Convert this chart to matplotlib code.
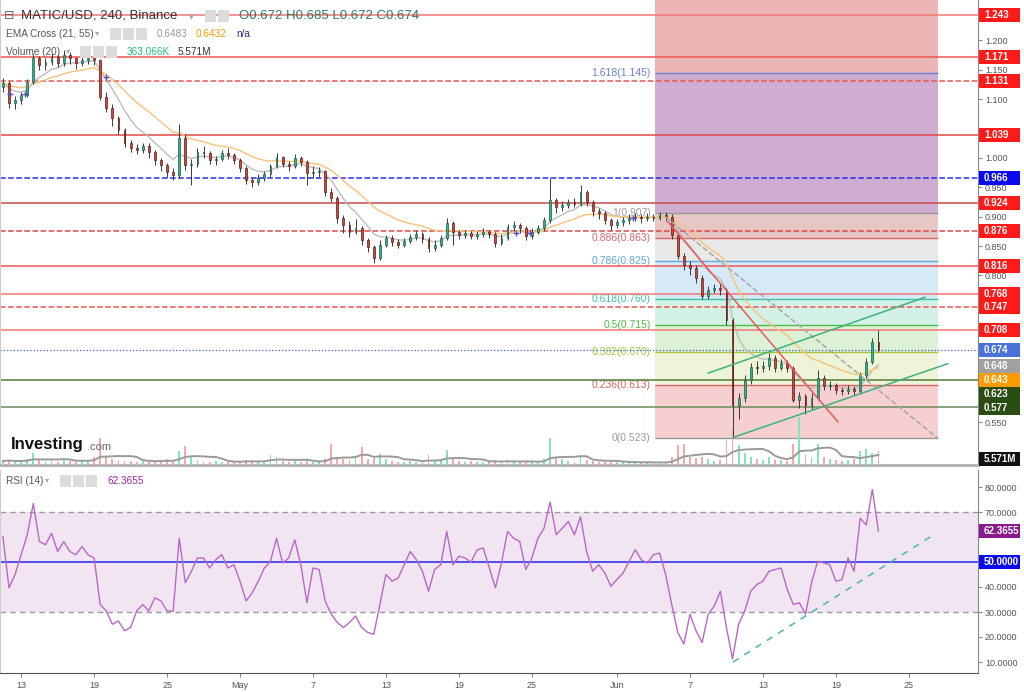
import numpy as np
import pandas as pd
import matplotlib
matplotlib.use("Agg")
import matplotlib.pyplot as plt
import matplotlib.transforms as mtransforms
from matplotlib.patches import Rectangle

plt.rcParams['font.family'] = ['Liberation Sans', 'DejaVu Sans']

# ---- data: MATIC/USD, resampled to 12h candles ----
times = pd.date_range("2023-04-11 12:00", periods=145, freq="12h")
first_open = 1.120
closes = [1.127, 1.093, 1.098, 1.107, 1.129, 1.170, 1.158, 1.163, 1.172, 1.161,
          1.175, 1.170, 1.161, 1.166, 1.170, 1.166, 1.104, 1.085, 1.068, 1.047,
          1.025, 1.017, 1.013, 1.020, 1.010, 0.996, 0.988, 0.976, 0.971, 1.034,
          0.988, 0.990, 1.010, 1.008, 0.996, 0.998, 1.008, 1.005, 0.996, 0.983,
          0.962, 0.959, 0.966, 0.973, 0.986, 1.001, 0.990, 0.986, 0.999, 0.993,
          0.974, 0.976, 0.978, 0.942, 0.932, 0.898, 0.886, 0.874, 0.881, 0.860,
          0.848, 0.830, 0.852, 0.864, 0.857, 0.852, 0.859, 0.865, 0.871, 0.862,
          0.847, 0.852, 0.864, 0.889, 0.874, 0.869, 0.872, 0.867, 0.871, 0.874,
          0.871, 0.856, 0.864, 0.882, 0.886, 0.881, 0.867, 0.874, 0.881, 0.894,
          0.928, 0.916, 0.920, 0.925, 0.922, 0.942, 0.925, 0.910, 0.906, 0.894,
          0.886, 0.891, 0.894, 0.898, 0.899, 0.898, 0.899, 0.898, 0.903, 0.899,
          0.869, 0.833, 0.818, 0.812, 0.796, 0.765, 0.775, 0.779, 0.775, 0.724,
          0.580, 0.591, 0.622, 0.644, 0.643, 0.646, 0.660, 0.643, 0.651, 0.643,
          0.588, 0.595, 0.580, 0.591, 0.626, 0.612, 0.614, 0.605, 0.603, 0.607,
          0.604, 0.631, 0.653, 0.687, 0.674]
highs = [1.135, 1.130, 1.105, 1.112, 1.134, 1.176, 1.174, 1.170, 1.178, 1.176,
         1.183, 1.180, 1.172, 1.175, 1.178, 1.174, 1.168, 1.112, 1.092, 1.072,
         1.050, 1.030, 1.024, 1.026, 1.025, 1.014, 1.000, 0.992, 0.982, 1.058,
         1.040, 0.998, 1.016, 1.020, 1.012, 1.004, 1.014, 1.016, 1.008, 0.999,
         0.986, 0.968, 0.972, 0.978, 0.990, 1.008, 1.004, 0.995, 1.006, 1.004,
         0.996, 0.986, 0.984, 0.980, 0.948, 0.935, 0.903, 0.892, 0.896, 0.884,
         0.864, 0.852, 0.860, 0.868, 0.868, 0.862, 0.864, 0.870, 0.878, 0.874,
         0.866, 0.860, 0.868, 0.898, 0.892, 0.878, 0.878, 0.876, 0.876, 0.880,
         0.878, 0.874, 0.870, 0.888, 0.892, 0.890, 0.884, 0.880, 0.886, 0.900,
         0.966, 0.932, 0.926, 0.930, 0.932, 0.954, 0.946, 0.928, 0.914, 0.910,
         0.898, 0.896, 0.900, 0.904, 0.906, 0.904, 0.906, 0.904, 0.908, 0.908,
         0.904, 0.872, 0.838, 0.824, 0.818, 0.800, 0.782, 0.786, 0.788, 0.778,
         0.728, 0.600, 0.630, 0.652, 0.655, 0.654, 0.668, 0.664, 0.658, 0.656,
         0.646, 0.602, 0.598, 0.600, 0.640, 0.630, 0.620, 0.618, 0.610, 0.614,
         0.612, 0.636, 0.660, 0.694, 0.708]
lows = [1.112, 1.085, 1.083, 1.092, 1.103, 1.125, 1.150, 1.150, 1.158, 1.155,
        1.157, 1.160, 1.152, 1.156, 1.160, 1.158, 1.098, 1.078, 1.055, 1.040,
        1.018, 1.010, 1.006, 1.008, 1.000, 0.988, 0.978, 0.968, 0.962, 0.966,
        0.980, 0.954, 0.985, 1.000, 0.990, 0.988, 0.994, 0.998, 0.990, 0.976,
        0.956, 0.950, 0.954, 0.960, 0.968, 0.982, 0.984, 0.978, 0.982, 0.986,
        0.954, 0.966, 0.968, 0.936, 0.925, 0.890, 0.872, 0.866, 0.870, 0.852,
        0.840, 0.822, 0.826, 0.848, 0.850, 0.846, 0.848, 0.855, 0.860, 0.856,
        0.840, 0.842, 0.848, 0.860, 0.852, 0.862, 0.864, 0.862, 0.862, 0.866,
        0.864, 0.848, 0.852, 0.860, 0.876, 0.872, 0.860, 0.862, 0.870, 0.876,
        0.890, 0.906, 0.910, 0.914, 0.916, 0.918, 0.918, 0.902, 0.896, 0.888,
        0.878, 0.880, 0.884, 0.888, 0.892, 0.890, 0.892, 0.892, 0.894, 0.892,
        0.862, 0.828, 0.810, 0.800, 0.788, 0.760, 0.760, 0.770, 0.766, 0.716,
        0.523, 0.556, 0.585, 0.616, 0.632, 0.636, 0.640, 0.636, 0.640, 0.636,
        0.584, 0.574, 0.565, 0.572, 0.588, 0.606, 0.606, 0.598, 0.596, 0.598,
        0.596, 0.600, 0.626, 0.650, 0.670]
volumes = [1.6, 2.0, 1.2, 1.6, 2.4, 4.8, 2.0, 1.6, 2.0, 1.2,
           2.4, 1.6, 1.2, 2.0, 1.6, 3.2, 10.8, 3.2, 2.4, 2.0,
           1.6, 1.6, 1.2, 1.6, 1.2, 1.6, 2.0, 2.4, 2.0, 5.6,
           7.6, 3.2, 2.0, 1.2, 1.2, 1.6, 1.2, 1.2, 1.2, 1.6,
           2.0, 1.6, 1.2, 1.6, 4.0, 3.2, 1.6, 1.2, 1.6, 1.2,
           2.0, 1.2, 1.2, 2.4, 8.4, 3.2, 2.4, 2.0, 2.8, 7.2,
           2.4, 2.8, 4.4, 2.4, 1.6, 1.2, 1.2, 1.6, 1.2, 1.6,
           4.0, 1.6, 2.4, 6.0, 2.4, 1.6, 1.2, 1.6, 1.2, 1.2,
           1.2, 2.0, 1.2, 2.0, 1.2, 1.2, 1.2, 1.2, 1.2, 2.4,
           10.8, 3.2, 2.4, 1.6, 1.2, 3.2, 2.0, 1.6, 1.2, 1.2,
           1.2, 1.2, 1.2, 1.2, 0.8, 0.8, 1.2, 0.8, 1.2, 1.2,
           3.2, 8.0, 8.4, 3.2, 2.8, 3.2, 2.4, 1.6, 2.0, 10.0,
           14.4, 8.0, 4.8, 3.2, 2.4, 2.0, 3.2, 2.0, 2.0, 1.6,
           8.4, 19.2, 4.0, 3.2, 8.4, 3.2, 2.4, 2.0, 1.6, 2.0,
           2.4, 5.6, 6.4, 4.8, 5.571]
rsi = [60.2, 39.7, 45.0, 52.9, 60.9, 73.4, 58.2, 56.9, 61.5, 54.2,
       58.2, 54.2, 52.9, 56.2, 52.9, 51.6, 33.0, 30.4, 25.1, 26.4,
       22.5, 23.8, 30.4, 33.0, 30.4, 35.7, 34.4, 30.4, 30.4, 59.5,
       41.7, 46.3, 51.6, 51.6, 47.6, 50.9, 52.9, 47.6, 48.9, 42.3,
       34.4, 37.7, 42.3, 47.6, 50.3, 59.5, 49.6, 51.6, 58.9, 48.9,
       33.7, 47.6, 47.0, 34.4, 29.1, 25.8, 23.8, 25.8, 28.4, 23.8,
       21.8, 21.1, 33.0, 45.0, 42.3, 43.6, 48.9, 54.2, 50.9, 46.3,
       38.3, 47.0, 48.9, 62.2, 48.9, 52.3, 51.6, 50.0, 54.9, 55.6,
       47.6, 39.7, 49.6, 62.2, 59.5, 58.2, 47.0, 51.6, 59.5, 63.5,
       74.0, 60.9, 63.5, 66.2, 60.9, 68.1, 54.2, 46.3, 48.9, 45.6,
       40.3, 43.0, 45.6, 50.3, 54.9, 50.9, 49.6, 52.9, 53.6, 45.0,
       33.0, 21.8, 17.2, 29.1, 22.5, 17.8, 29.1, 32.4, 38.3, 23.8,
       11.2, 25.1, 30.4, 38.3, 41.0, 42.3, 46.3, 47.0, 47.6, 39.0,
       33.0, 33.7, 29.1, 41.7, 50.3, 49.6, 48.9, 42.3, 43.0, 51.6,
       46.3, 67.5, 64.8, 79.0, 62.3655]

# horizontal levels drawn across the chart: (price, colour, style)
levels = [(1.243, '#f27777', '-'), (1.171, '#ee5555', '-'), (1.131, '#ee5555', '--'),
          (1.039, '#e04848', '-'), (0.966, '#2b2bee', '--'), (0.924, '#c84a4a', '-'),
          (0.876, '#e04848', '--'), (0.816, '#ee5555', '-'), (0.768, '#f27777', '-'),
          (0.747, '#ee5555', '--'), (0.708, '#f27777', '-'), (0.674, '#3b5bdb', ':'),
          (0.623, '#557a3a', '-'), (0.577, '#6b8a5a', '-')]
# price tags on the right axis: (text, y position shown, colour)
tags = [('1.243', 1.243, '#ff1a1a'), ('1.171', 1.171, '#ff1a1a'), ('1.131', 1.131, '#ff1a1a'),
        ('1.039', 1.039, '#ff1a1a'), ('0.966', 0.966, '#0a0af0'), ('0.924', 0.924, '#ff1a1a'),
        ('0.876', 0.876, '#ff1a1a'), ('0.816', 0.816, '#ff1a1a'), ('0.768', 0.768, '#ff1a1a'),
        ('0.747', 0.747, '#ff1a1a'), ('0.708', 0.708, '#ff1a1a'), ('0.674', 0.674, '#4a72d8'),
        ('0.648', 0.646, '#a0a0a0'), ('0.643', 0.622, '#ff9a00'), ('0.623', 0.598, '#2b4d14'),
        ('0.577', 0.575, '#2b4d14'), ('5.571M', 0.488, '#111111')]
price_ticks = [0.55, 0.80, 0.85, 0.90, 0.95, 1.00, 1.10, 1.15, 1.20]
rsi_tags = [('62.3655', 62.3655, '#8a1a8e'), ('50.0000', 50.0, '#0a0af0')]
rsi_ticks = [10, 20, 30, 40, 70, 80]

# fibonacci retracement
fib_start, fib_end = pd.Timestamp("2023-06-04 03:00"), pd.Timestamp("2023-06-27 09:30")
fib_ratio = ['0', '0.236', '0.382', '0.5', '0.618', '0.786', '0.886', '1', '1.618']
fib_price = [0.523, 0.613, 0.670, 0.715, 0.760, 0.825, 0.863, 0.907, 1.145]
fib_line_col = ['#9a9a9a', '#e06060', '#a8c83c', '#4cbb4c', '#3fc5a0', '#5aa9e0',
                '#e06666', '#9a9a9a', '#6a7fd8']
fib_fill = ['#f6d0d0', '#eef4d8', '#dcf1d6', '#d3f1e6', '#d5e9f6', '#e9e9e9',
            '#e7c6c6', '#cfadd0', '#ebb5b5']

# drawn trend lines: (t0, y0, t1, y1, colour, style)
trend = [("2023-06-05 05:00", 0.891, "2023-06-19 04:00", 0.551, '#e85a5a', '-'),
         ("2023-06-04 23:00", 0.900, "2023-06-27 08:00", 0.524, '#a8a8a8', '--'),
         ("2023-06-08 12:00", 0.634, "2023-06-26 08:00", 0.763, '#3fb27f', '-'),
         ("2023-06-10 11:00", 0.524, "2023-06-28 05:00", 0.650, '#3fb27f', '-')]
rsi_trend = ("2023-06-10 13:00", 10.0, "2023-06-26 18:00", 60.0)

cross_t = pd.to_datetime(["2023-04-12 02:00", "2023-04-13 07:00", "2023-04-20 00:00",
                          "2023-05-23 17:00", "2023-05-24 20:00", "2023-06-02 07:00"])
cross_p = [1.109, 1.109, 1.138, 0.872, 0.872, 0.898]

tick_dates = pd.to_datetime(["2023-04-13", "2023-04-19", "2023-04-25", "2023-05-01",
                             "2023-05-07", "2023-05-13", "2023-05-19", "2023-05-25",
                             "2023-06-01", "2023-06-07", "2023-06-13", "2023-06-19",
                             "2023-06-25"])
tick_labels = ['13', '19', '25', 'May', '7', '13', '19', '25', 'Jun', '7', '13', '19', '25']

##-------------------------------------------------
W, H = 1024, 692
fig = plt.figure(figsize=(W / 100, H / 100), dpi=100)
ax = fig.add_axes([0, 1 - 465 / H, 978 / W, 465 / H])
axr = fig.add_axes([0, 1 - 673 / H, 978 / W, 203 / H], sharex=ax)

df = pd.DataFrame({'c': closes, 'h': highs, 'l': lows, 'v': volumes}, index=times)
df['o'] = [first_open] + closes[:-1]
up = df['c'] >= df['o']

ax.set_xlim(pd.Timestamp("2023-04-11 06:15"), pd.Timestamp("2023-06-30 16:30"))
ax.set_ylim(0.4777, 1.2685)

# fib zones
for i in range(len(fib_price)):
    lo = fib_price[i]
    hi = fib_price[i + 1] if i + 1 < len(fib_price) else 1.30
    ax.fill_between([fib_start, fib_end], lo, hi, color=fib_fill[i], lw=0, zorder=0)
for p, r, c in zip(fib_price, fib_ratio, fib_line_col):
    ax.hlines(p, fib_start, fib_end, color=c, lw=1, zorder=1)
    ax.annotate(f"{r}({p:.3f})", (fib_start, p), xytext=(-3, 0), textcoords='offset points',
                ha='right', va='center', fontsize=7.5, color=c, zorder=1)

# horizontal levels
for p, c, ls in levels:
    lw = 0.9 if ls == ':' else 1.1
    ax.axhline(p, color=c, lw=lw, ls=ls, zorder=1.5)

# EMA cross (21, 55 on 4h ~ 7, 18 on 12h)
ema_fast = df['c'].ewm(span=7, adjust=False).mean()
ema_slow = df['c'].ewm(span=18, adjust=False).mean()
ax.plot(times, ema_fast, color='#bdbdbd', lw=1, zorder=2)
ax.plot(times, ema_slow, color='#f7c27a', lw=1, zorder=2)
ax.plot(cross_t, cross_p, '+', color='#5b4fc4', ms=4, mew=1, zorder=4)

# candles
w = pd.Timedelta(hours=3.6)
body_lo = np.minimum(df['o'], df['c'])
body_h = np.maximum(np.abs(df['c'] - df['o']), 0.0015)
ax.vlines(times, df['l'], df['h'], color='#3a3a3a', lw=0.7, zorder=3)
ax.bar(times[up], body_h[up], bottom=body_lo[up], width=w, color='#2fb38a',
       edgecolor='#1d5e4b', lw=0.5, zorder=3.2)
ax.bar(times[~up], body_h[~up], bottom=body_lo[~up], width=w, color='#d0463c',
       edgecolor='#5a2018', lw=0.5, zorder=3.2)

# trend lines
for t_a, p_a, t_b, p_b, c, ls in trend:
    ax.plot(pd.to_datetime([t_a, t_b]), [p_a, p_b], color=c, lw=1.1, ls=ls, zorder=3.5)

# volume overlay
axv = ax.twinx()
axv.set_ylim(0, 465 / 2.5)
vol_col = np.where(up, '#86e3bd', '#f7a9a9')
axv.bar(times, df['v'], width=w, color=vol_col, lw=0, zorder=1)
axv.plot(times, df['v'].rolling(7, min_periods=1).mean(), color='#9a9a9a', lw=1.4)
axv.set_axis_off()


def style_right(a, ticks, fmt):
    a.yaxis.tick_right()
    a.set_yticks(ticks)
    a.yaxis.set_major_formatter(matplotlib.ticker.FormatStrFormatter(fmt))
    a.tick_params(axis='y', labelsize=6.5, labelcolor='#555555', color='#888888',
                  length=3, width=0.8, pad=2)
    a.spines['top'].set_visible(False)
    a.spines['left'].set_color('#cccccc')
    a.spines['right'].set_color('#888888')


def add_tags(a, items, half):
    # fixed-width coloured labels on the right axis (x in figure px, y in data)
    tr = mtransforms.blended_transform_factory(fig.transFigure, a.transData)
    for txt, p, bg in items:
        a.add_patch(Rectangle((979 / W, p - half), 41 / W, 2 * half, transform=tr,
                              fc=bg, ec='none', clip_on=False, zorder=10))
        a.text(984 / W, p, txt, transform=tr, ha='left', va='center', fontsize=7,
               fontweight='bold', color='white', clip_on=False, zorder=11)


style_right(ax, price_ticks, '%.3f')
ax.tick_params(axis='x', bottom=False, labelbottom=False)
ax.spines['bottom'].set_color('#b0b0b0')
ax.spines['bottom'].set_linewidth(2)
add_tags(ax, tags, 7 / 588)

# RSI panel
axr.set_ylim(5.6, 86.8)
axr.axhspan(30, 70, color='#f2e5f2', lw=0, zorder=0)
axr.axhline(70, color='#9a9a9a', lw=1, ls=(0, (4, 3)))
axr.axhline(30, color='#9a9a9a', lw=1, ls=(0, (4, 3)))
axr.axhline(50, color='#3434f0', lw=1.2)
axr.plot(times, rsi, color='#b868c6', lw=1)
axr.plot(pd.to_datetime([rsi_trend[0], rsi_trend[2]]), [rsi_trend[1], rsi_trend[3]],
         color='#5bb8a8', lw=1.2, ls=(0, (4, 4)))
style_right(axr, rsi_ticks, '%.4f')
axr.set_xticks(tick_dates)
axr.set_xticklabels(tick_labels)
axr.tick_params(axis='x', labelsize=6.5, labelcolor='#555555', color='#888888',
                length=3, width=0.8, pad=3)
axr.spines['bottom'].set_color('#555555')
add_tags(axr, rsi_tags, 7 / 2.5)


# header legend texts, positioned in pixels
def ftext(x, y, s, **kw):
    fig.text(x / W, 1 - y / H, s, va='center', ha='left', **kw)


def icons(x, y, n):
    for i in range(n):
        fig.add_artist(Rectangle(((x + i * 13) / W, 1 - (y + 6) / H), 11 / W, 12 / H,
                                 transform=fig.transFigure, fc='#dcdcdc', ec='none'))


ftext(4, 16, '⊟', fontsize=9, color='#666666')
ftext(21, 16, 'MATIC/USD, 240, Binance', fontsize=9.5, color='#333333')
ftext(189, 16, '▾', fontsize=7, color='#aaaaaa')
icons(205, 16, 2)
ftext(239, 16, 'O0.672 H0.685 L0.672 C0.674', fontsize=9.5, color='#2f7a5a')

ftext(6, 34, 'EMA Cross (21, 55)', fontsize=7.2, color='#555555')
ftext(95, 34, '▾', fontsize=6, color='#aaaaaa')
icons(110, 34, 3)
ftext(157, 34, '0.6483', fontsize=7.2, color='#9a9a9a')
ftext(196, 34, '0.6432', fontsize=7.2, color='#ff9800')
ftext(236, 34, 'n/a', fontsize=7.2, color='#2a2a8a')

ftext(6, 52, 'Volume (20)', fontsize=7.2, color='#555555')
ftext(66, 52, '▾', fontsize=6, color='#aaaaaa')
icons(80, 52, 3)
ftext(127, 52, '363.066K', fontsize=7.2, color='#22c07a')
ftext(178, 52, '5.571M', fontsize=7.2, color='#333333')

ftext(6, 481, 'RSI (14)', fontsize=7.2, color='#555555')
ftext(45, 481, '▾', fontsize=6, color='#aaaaaa')
icons(60, 481, 3)
ftext(107, 481, '62.3655', fontsize=7.2, color='#9c27b0')

ftext(11, 445, 'Investing', fontsize=12, fontweight='bold', color='#111111')
ftext(87, 447, '.com', fontsize=8, color='#666666')

fig.savefig('out.png', dpi=100)
